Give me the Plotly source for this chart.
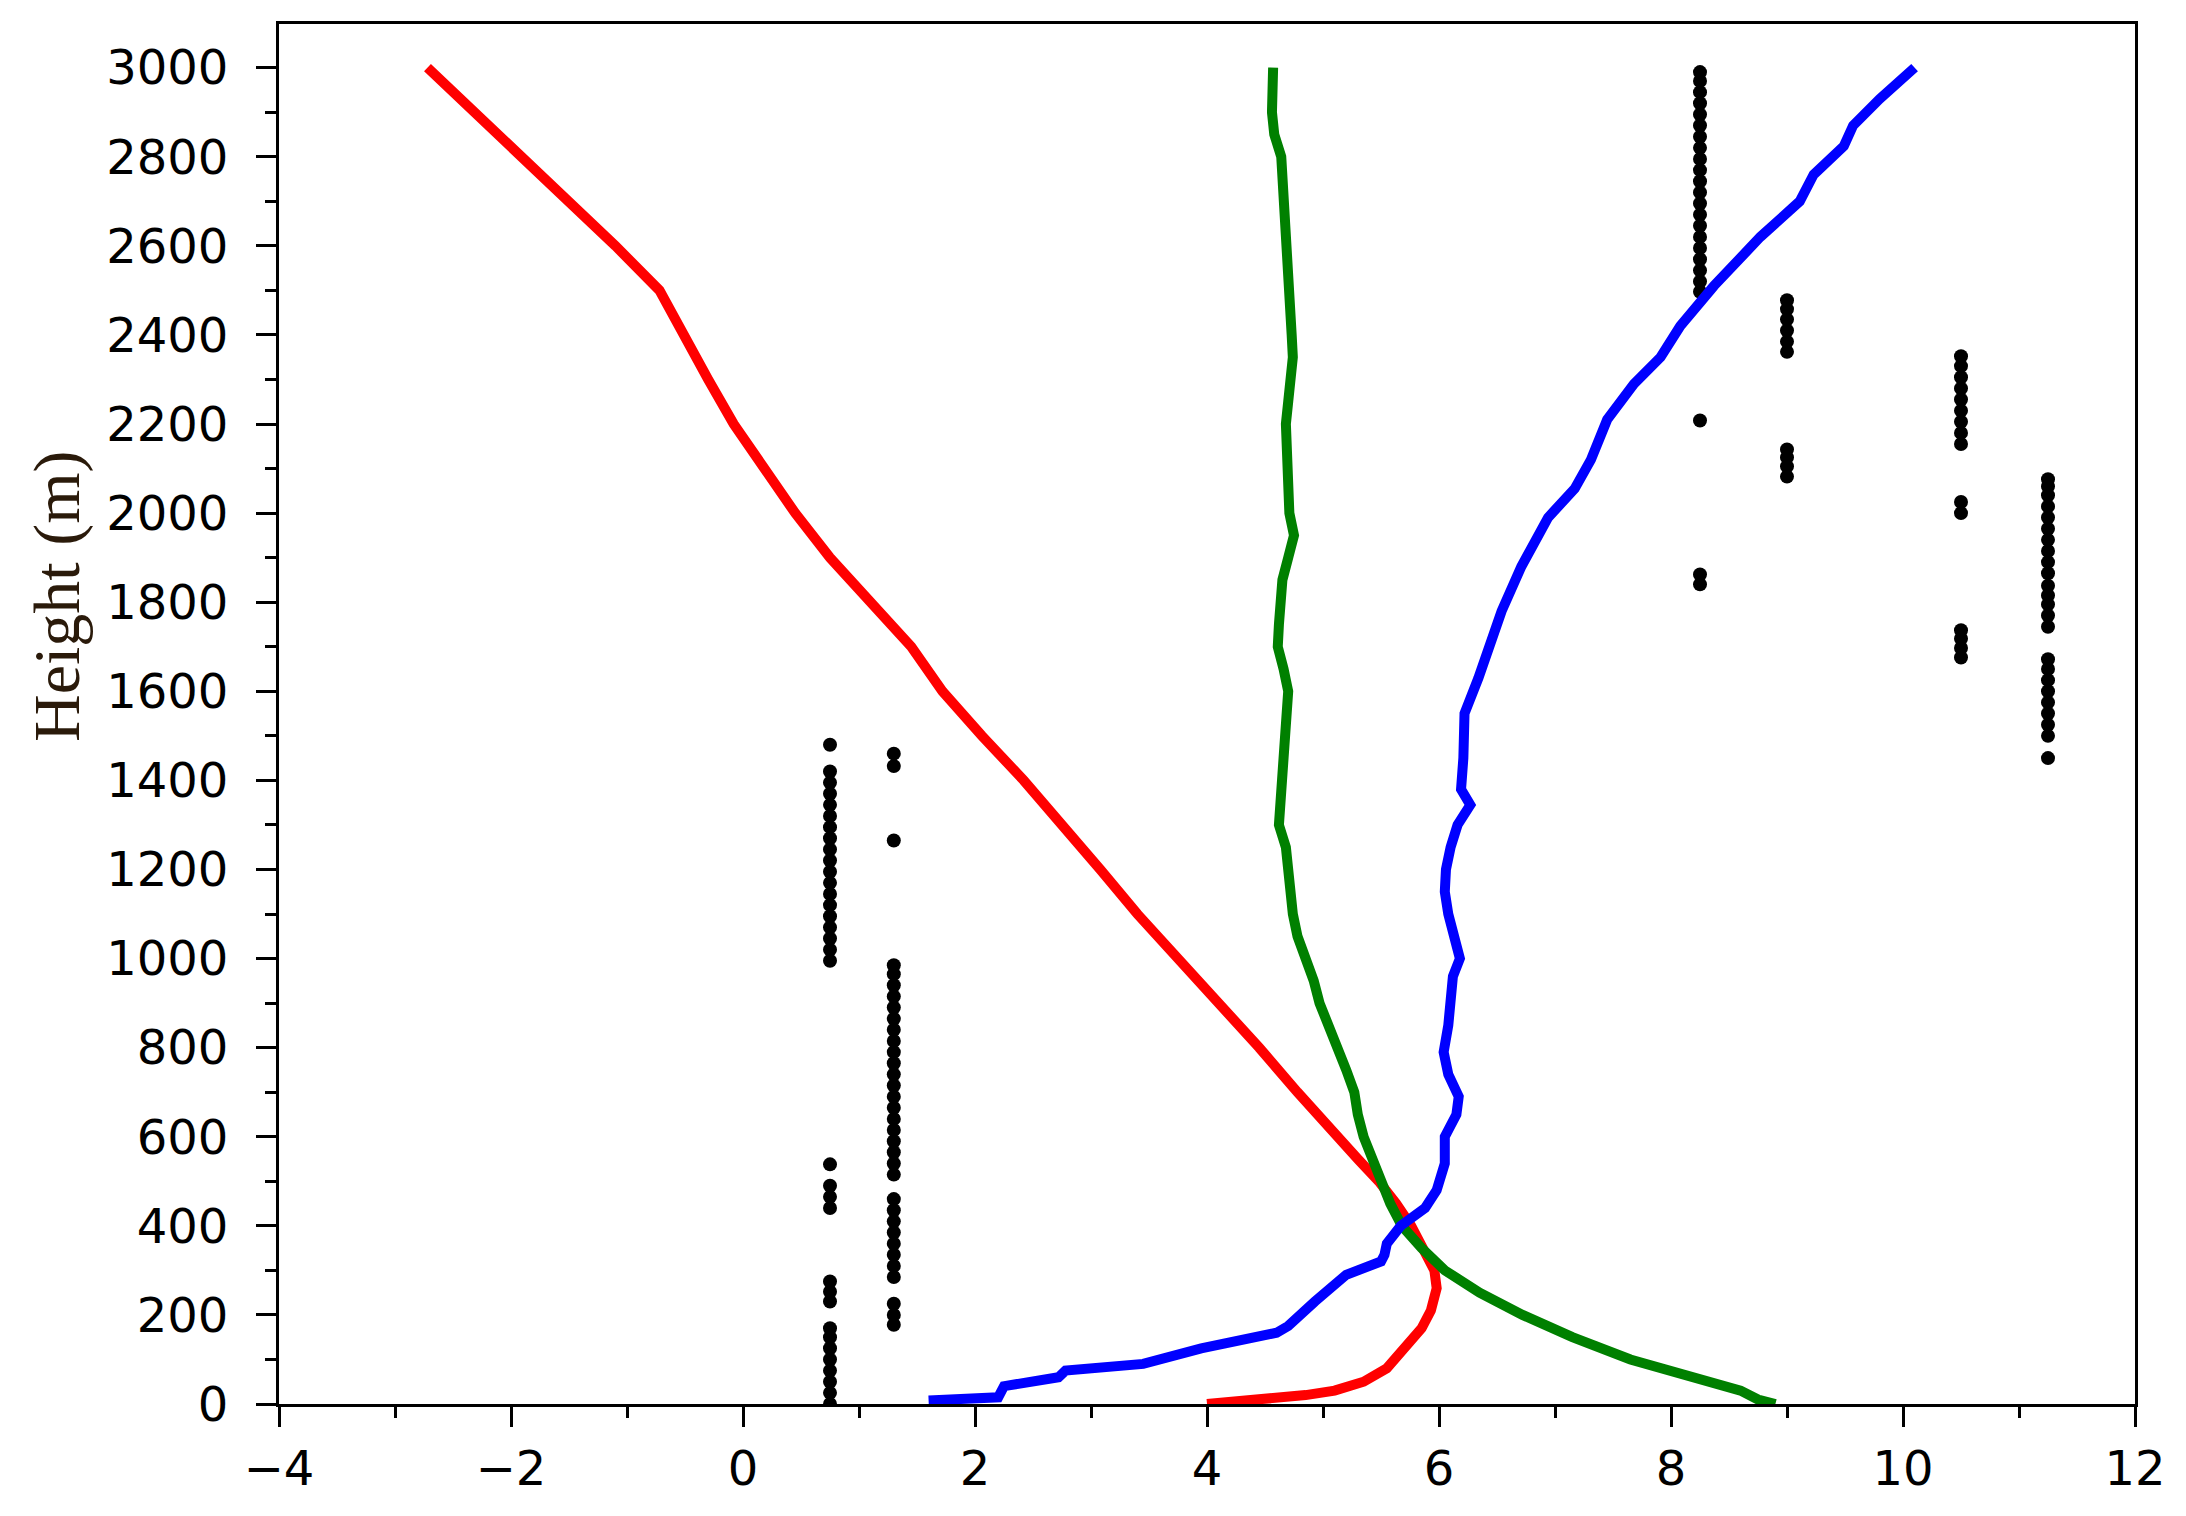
import plotly.graph_objects as go

# ---------------- data ----------------
red_h = [0, 10, 20, 30, 50, 80, 100, 130, 170, 210, 260, 300, 350, 400, 450, 500, 550, 600,
         650, 700, 800, 900, 950, 1000, 1100, 1200, 1300, 1400, 1500, 1600, 1700, 1800, 1900,
         2000, 2100, 2200, 2300, 2400, 2500, 2600, 2700, 2800, 2900, 3000]
red_x = [4.0, 4.5, 4.85, 5.1, 5.35, 5.55, 5.62, 5.72, 5.85, 5.93, 5.98, 5.96, 5.87, 5.76, 5.63,
         5.48, 5.3, 5.12, 4.95, 4.78, 4.45, 4.1, 3.92, 3.74, 3.4, 3.08, 2.76, 2.42, 2.06, 1.72,
         1.45, 1.1, 0.75, 0.45, 0.18, -0.08, -0.3, -0.52, -0.72, -1.1, -1.5, -1.92, -2.32, -2.72]

green_h = [0, 10, 30, 60, 100, 150, 200, 250, 300, 350, 400, 450, 500, 550, 600, 650, 700, 750,
           800, 850, 900, 950, 1000, 1050, 1100, 1150, 1200, 1250, 1300, 1350, 1400, 1500, 1600,
           1650, 1700, 1750, 1800, 1850, 1900, 1950, 2000, 2100, 2200, 2250, 2300, 2350, 2400,
           2500, 2600, 2700, 2800, 2850, 2900, 3000]
green_x = [8.9, 8.75, 8.6, 8.2, 7.65, 7.15, 6.72, 6.35, 6.05, 5.85, 5.68, 5.58, 5.5, 5.42, 5.35,
           5.3, 5.27, 5.2, 5.12, 5.05, 4.97, 4.92, 4.85, 4.78, 4.74, 4.72, 4.72, 4.68, 4.62, 4.63,
           4.65, 4.67, 4.70, 4.66, 4.61, 4.62, 4.64, 4.65, 4.70, 4.75, 4.71, 4.70, 4.68, 4.70,
           4.73, 4.74, 4.73, 4.71, 4.67, 4.65, 4.64, 4.58, 4.56, 4.57]

blue_h = [8, 15, 25, 40, 60, 75, 90, 125, 160, 175, 230, 290, 320, 335, 360, 400, 440, 480, 540,
          600, 650, 690, 740, 790, 850, 910, 960, 1000, 1050, 1100, 1150, 1200, 1250, 1300, 1345,
          1380, 1450, 1550, 1630, 1710, 1780, 1880, 1990, 2055, 2120, 2210, 2290, 2350, 2420,
          2510, 2620, 2700, 2760, 2824, 2870, 2930, 3000]
blue_x = [1.6, 2.2, 2.22, 2.25, 2.72, 2.78, 3.45, 3.95, 4.6, 4.7, 4.93, 5.2, 5.5, 5.53, 5.55,
          5.67, 5.88, 5.98, 6.05, 6.05, 6.15, 6.17, 6.08, 6.04, 6.08, 6.1, 6.12, 6.18, 6.12, 6.08,
          6.05, 6.06, 6.1, 6.16, 6.27, 6.19, 6.21, 6.22, 6.34, 6.45, 6.54, 6.71, 6.94, 7.17, 7.31,
          7.45, 7.68, 7.91, 8.08, 8.37, 8.77, 9.11, 9.23, 9.49, 9.57, 9.80, 10.1]

dot_cols = [0.75, 1.3, 8.25, 9.0, 10.5, 11.25]
dots_075 = [0, 25, 50, 75, 100, 125, 150, 170, 230, 252, 275, 440, 465, 490, 538, 995, 1020,
            1045, 1070, 1095, 1120, 1145, 1170, 1195, 1220, 1245, 1270, 1295, 1320, 1345, 1370,
            1395, 1420, 1480]
dots_130 = [178, 200, 225, 285, 310, 335, 360, 385, 410, 435, 460, 515, 540, 565, 590, 615,
            640, 665, 690, 715, 740, 765, 790, 815, 840, 865, 890, 915, 940, 965, 985, 1265,
            1432, 1460]
dots_825 = [1840, 1862, 2208, 2497, 2520, 2545, 2570, 2595, 2620, 2645, 2670, 2695, 2720, 2745,
            2770, 2795, 2820, 2845, 2870, 2895, 2920, 2945, 2970, 2990]
dots_900 = [2082, 2105, 2125, 2143, 2362, 2385, 2410, 2435, 2458, 2478]
dots_1050 = [1676, 1697, 1718, 1737, 2000, 2025, 2155, 2180, 2205, 2230, 2255, 2280, 2305,
             2330, 2352]
dots_1125 = [1450, 1500, 1525, 1550, 1575, 1600, 1625, 1650, 1672, 1745, 1770, 1795, 1815,
             1837, 1865, 1890, 1915, 1940, 1965, 1990, 2015, 2040, 2060, 2076]
dot_heights = [dots_075, dots_130, dots_825, dots_900, dots_1050, dots_1125]

x_ticks = [-4, -2, 0, 2, 4, 6, 8, 10, 12]
y_ticks = list(range(0, 3001, 200))

# ---------------- figure ----------------
fig = go.Figure()

dx, dy = [], []
for cx, hs in zip(dot_cols, dot_heights):
    dx += [cx] * len(hs)
    dy += hs
fig.add_trace(go.Scatter(x=dx, y=dy, mode="markers",
                         marker=dict(color="black", size=14, line=dict(width=0)),
                         showlegend=False))
fig.add_trace(go.Scatter(x=red_x, y=red_h, mode="lines",
                         line=dict(color="#ff0000", width=10), showlegend=False))
fig.add_trace(go.Scatter(x=green_x, y=green_h, mode="lines",
                         line=dict(color="#008000", width=10), showlegend=False))
fig.add_trace(go.Scatter(x=blue_x, y=blue_h, mode="lines",
                         line=dict(color="#0000ff", width=10), showlegend=False))

tick_font = dict(family="DejaVu Sans", size=48, color="black")
fig.update_xaxes(range=[-4, 12], tickvals=x_ticks, ticktext=[str(v).replace("-", "\u2212") for v in x_ticks],
                 ticks="outside", ticklen=20, tickwidth=3, tickcolor="black",
                 minor=dict(dtick=1, tick0=0, ticks="outside", ticklen=11, tickwidth=3, tickcolor="black"),
                 showline=True, linewidth=3, linecolor="black", mirror=True,
                 showgrid=False, zeroline=False, tickfont=tick_font, ticklabelstandoff=0)
fig.update_yaxes(range=[0, 3098], tickvals=y_ticks, ticktext=[str(v) for v in y_ticks],
                 ticks="outside", ticklen=20, tickwidth=3, tickcolor="black",
                 minor=dict(dtick=100, tick0=0, ticks="outside", ticklen=11, tickwidth=3, tickcolor="black"),
                 showline=True, linewidth=3, linecolor="black", mirror=True,
                 showgrid=False, zeroline=False, tickfont=tick_font, ticklabelstandoff=18)

fig.add_annotation(text="Height (m)", xref="paper", yref="paper", x=-0.12, y=0.585,
                   xanchor="center", yanchor="middle", textangle=-90, showarrow=False,
                   font=dict(family="Liberation Serif", size=66, color="#2a1a0a"))

fig.update_layout(width=2170, height=1500, plot_bgcolor="white", paper_bgcolor="white",
                  margin=dict(l=271, r=35, t=16, b=97))

fig.write_html("out.html")
